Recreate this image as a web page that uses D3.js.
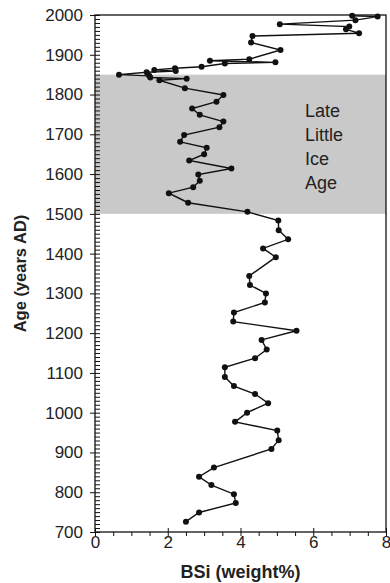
<!DOCTYPE html>
<html>
<head>
<meta charset="utf-8">
<script src="https://cdn.jsdelivr.net/npm/d3@7"></script>
<style>
  body { margin: 0; background: #fff; }
  svg { display: block; font-family: "Liberation Sans", Arial, sans-serif; }
  .tick text { fill: #222; }
</style>
</head>
<body>
<div id="chart"></div>
<script>
// BSi profile (years AD, top to bottom)
var years = [1998, 1996, 1987, 1977, 1971, 1964, 1954, 1947, 1931, 1912,
  1889, 1885, 1881, 1878, 1870, 1866, 1862, 1859, 1856, 1850,
  1847, 1843, 1840, 1836, 1816, 1799, 1782, 1765, 1749, 1732,
  1718, 1698, 1681, 1666, 1650, 1634, 1614, 1599, 1583, 1567,
  1552, 1528, 1505, 1483, 1459, 1436, 1413, 1391, 1344, 1321,
  1300, 1277, 1252, 1229, 1206, 1183, 1159, 1137, 1114, 1090,
  1067, 1047, 1024, 1000, 977, 955, 931, 909, 862, 839,
  818, 795, 773, 749, 726];
var bsi = [7.07, 7.77, 7.16, 5.08, 6.99, 6.90, 7.26, 4.33, 4.29, 5.10,
  4.24, 3.16, 4.96, 3.57, 2.93, 2.20, 1.63, 2.22, 1.42, 0.66,
  1.49, 1.52, 2.52, 1.77, 2.47, 3.53, 3.34, 2.67, 2.88, 3.53,
  3.42, 2.45, 2.34, 3.07, 3.00, 2.59, 3.75, 2.84, 2.88, 2.70,
  2.03, 2.56, 4.19, 5.04, 5.05, 5.31, 4.62, 4.97, 4.24, 4.26,
  4.70, 4.67, 3.82, 3.80, 5.54, 4.58, 4.72, 4.40, 3.57, 3.57,
  3.82, 4.40, 4.76, 4.18, 3.85, 5.01, 5.05, 4.85, 3.27, 2.86,
  3.20, 3.82, 3.87, 2.86, 2.50];

var xTicks = [0, 2, 4, 6, 8];
var yTicks = [700, 800, 900, 1000, 1100, 1200, 1300, 1400, 1500, 1600, 1700, 1800, 1900, 2000];
var bandYears = [1500, 1850];
var bandLabel = ["Late", "Little", "Ice", "Age"];

var svgWidth = 390, svgHeight = 583;
var margin = { top: 15, right: 4, bottom: 51, left: 95 };
var width = svgWidth - margin.left - margin.right;
var height = svgHeight - margin.top - margin.bottom;

var svg = d3.select("#chart").append("svg")
  .attr("width", svgWidth)
  .attr("height", svgHeight);
var g = svg.append("g")
  .attr("transform", `translate(${margin.left}, ${margin.top})`);

var x = d3.scaleLinear().domain([0, 8]).range([0, width]);
var y = d3.scaleLinear().domain([700, 2000]).range([height, 0]);

// shaded Little Ice Age interval
g.append("rect")
  .attr("x", 0)
  .attr("width", width)
  .attr("y", y(bandYears[1]))
  .attr("height", y(bandYears[0]) - y(bandYears[1]))
  .attr("fill", "#c9c9c9");

var label = g.append("text")
  .attr("font-size", 18)
  .attr("fill", "#222");
bandLabel.forEach(function(t, i) {
  label.append("tspan")
    .attr("x", 210)
    .attr("y", 102 + i * 24)
    .text(t);
});

// minor tick values
var yMinor = d3.range(700, 2001, 10);
var xMinor = d3.range(0, 8.01, 0.5);

var yLeft = g.append("g")
  .call(d3.axisLeft(y).tickValues(yTicks).tickSize(5).tickPadding(7).tickFormat(d3.format("d")));
yLeft.selectAll("text").attr("font-size", 17);
var yInner = g.append("g")
  .call(d3.axisRight(y).tickValues(yMinor).tickSize(5).tickFormat(""));

var xBottom = g.append("g")
  .attr("transform", `translate(0, ${height})`)
  .call(d3.axisBottom(x).tickValues(xMinor).tickSize(4).tickPadding(0)
    .tickFormat(d => xTicks.includes(d) ? d : ""));
xBottom.selectAll("text").attr("font-size", 17);
var xInner = g.append("g")
  .attr("transform", `translate(0, ${height})`)
  .call(d3.axisTop(x).tickValues(xTicks).tickSize(4).tickFormat(""));

g.selectAll(".domain").remove();
g.selectAll(".tick line").attr("stroke", "#111").attr("stroke-width", 1);

g.append("rect")
  .attr("width", width)
  .attr("height", height)
  .attr("fill", "none")
  .attr("stroke", "#111")
  .attr("stroke-width", 1.3);

var data = years.map((d, i) => ({ year: d, bsi: bsi[i] }));

var line = d3.line()
  .x(d => x(d.bsi))
  .y(d => y(d.year));

g.append("path")
  .datum(data)
  .attr("d", line)
  .attr("fill", "none")
  .attr("stroke", "#111")
  .attr("stroke-width", 1.4);

g.selectAll("circle")
  .data(data)
  .enter()
  .append("circle")
  .attr("cx", d => x(d.bsi))
  .attr("cy", d => y(d.year))
  .attr("r", 3)
  .attr("fill", "#111");

// axis titles
svg.append("text")
  .attr("x", margin.left + width / 2)
  .attr("y", 578)
  .attr("text-anchor", "middle")
  .attr("font-size", 18)
  .attr("font-weight", "bold")
  .attr("fill", "#222")
  .text("BSi (weight%)");

svg.append("text")
  .attr("transform", `translate(20, ${margin.top + height / 2}) rotate(-90)`)
  .attr("text-anchor", "middle")
  .attr("dy", "0.35em")
  .attr("font-size", 16.5)
  .attr("font-weight", "bold")
  .attr("fill", "#222")
  .text("Age (years AD)");
</script>
</body>
</html>
